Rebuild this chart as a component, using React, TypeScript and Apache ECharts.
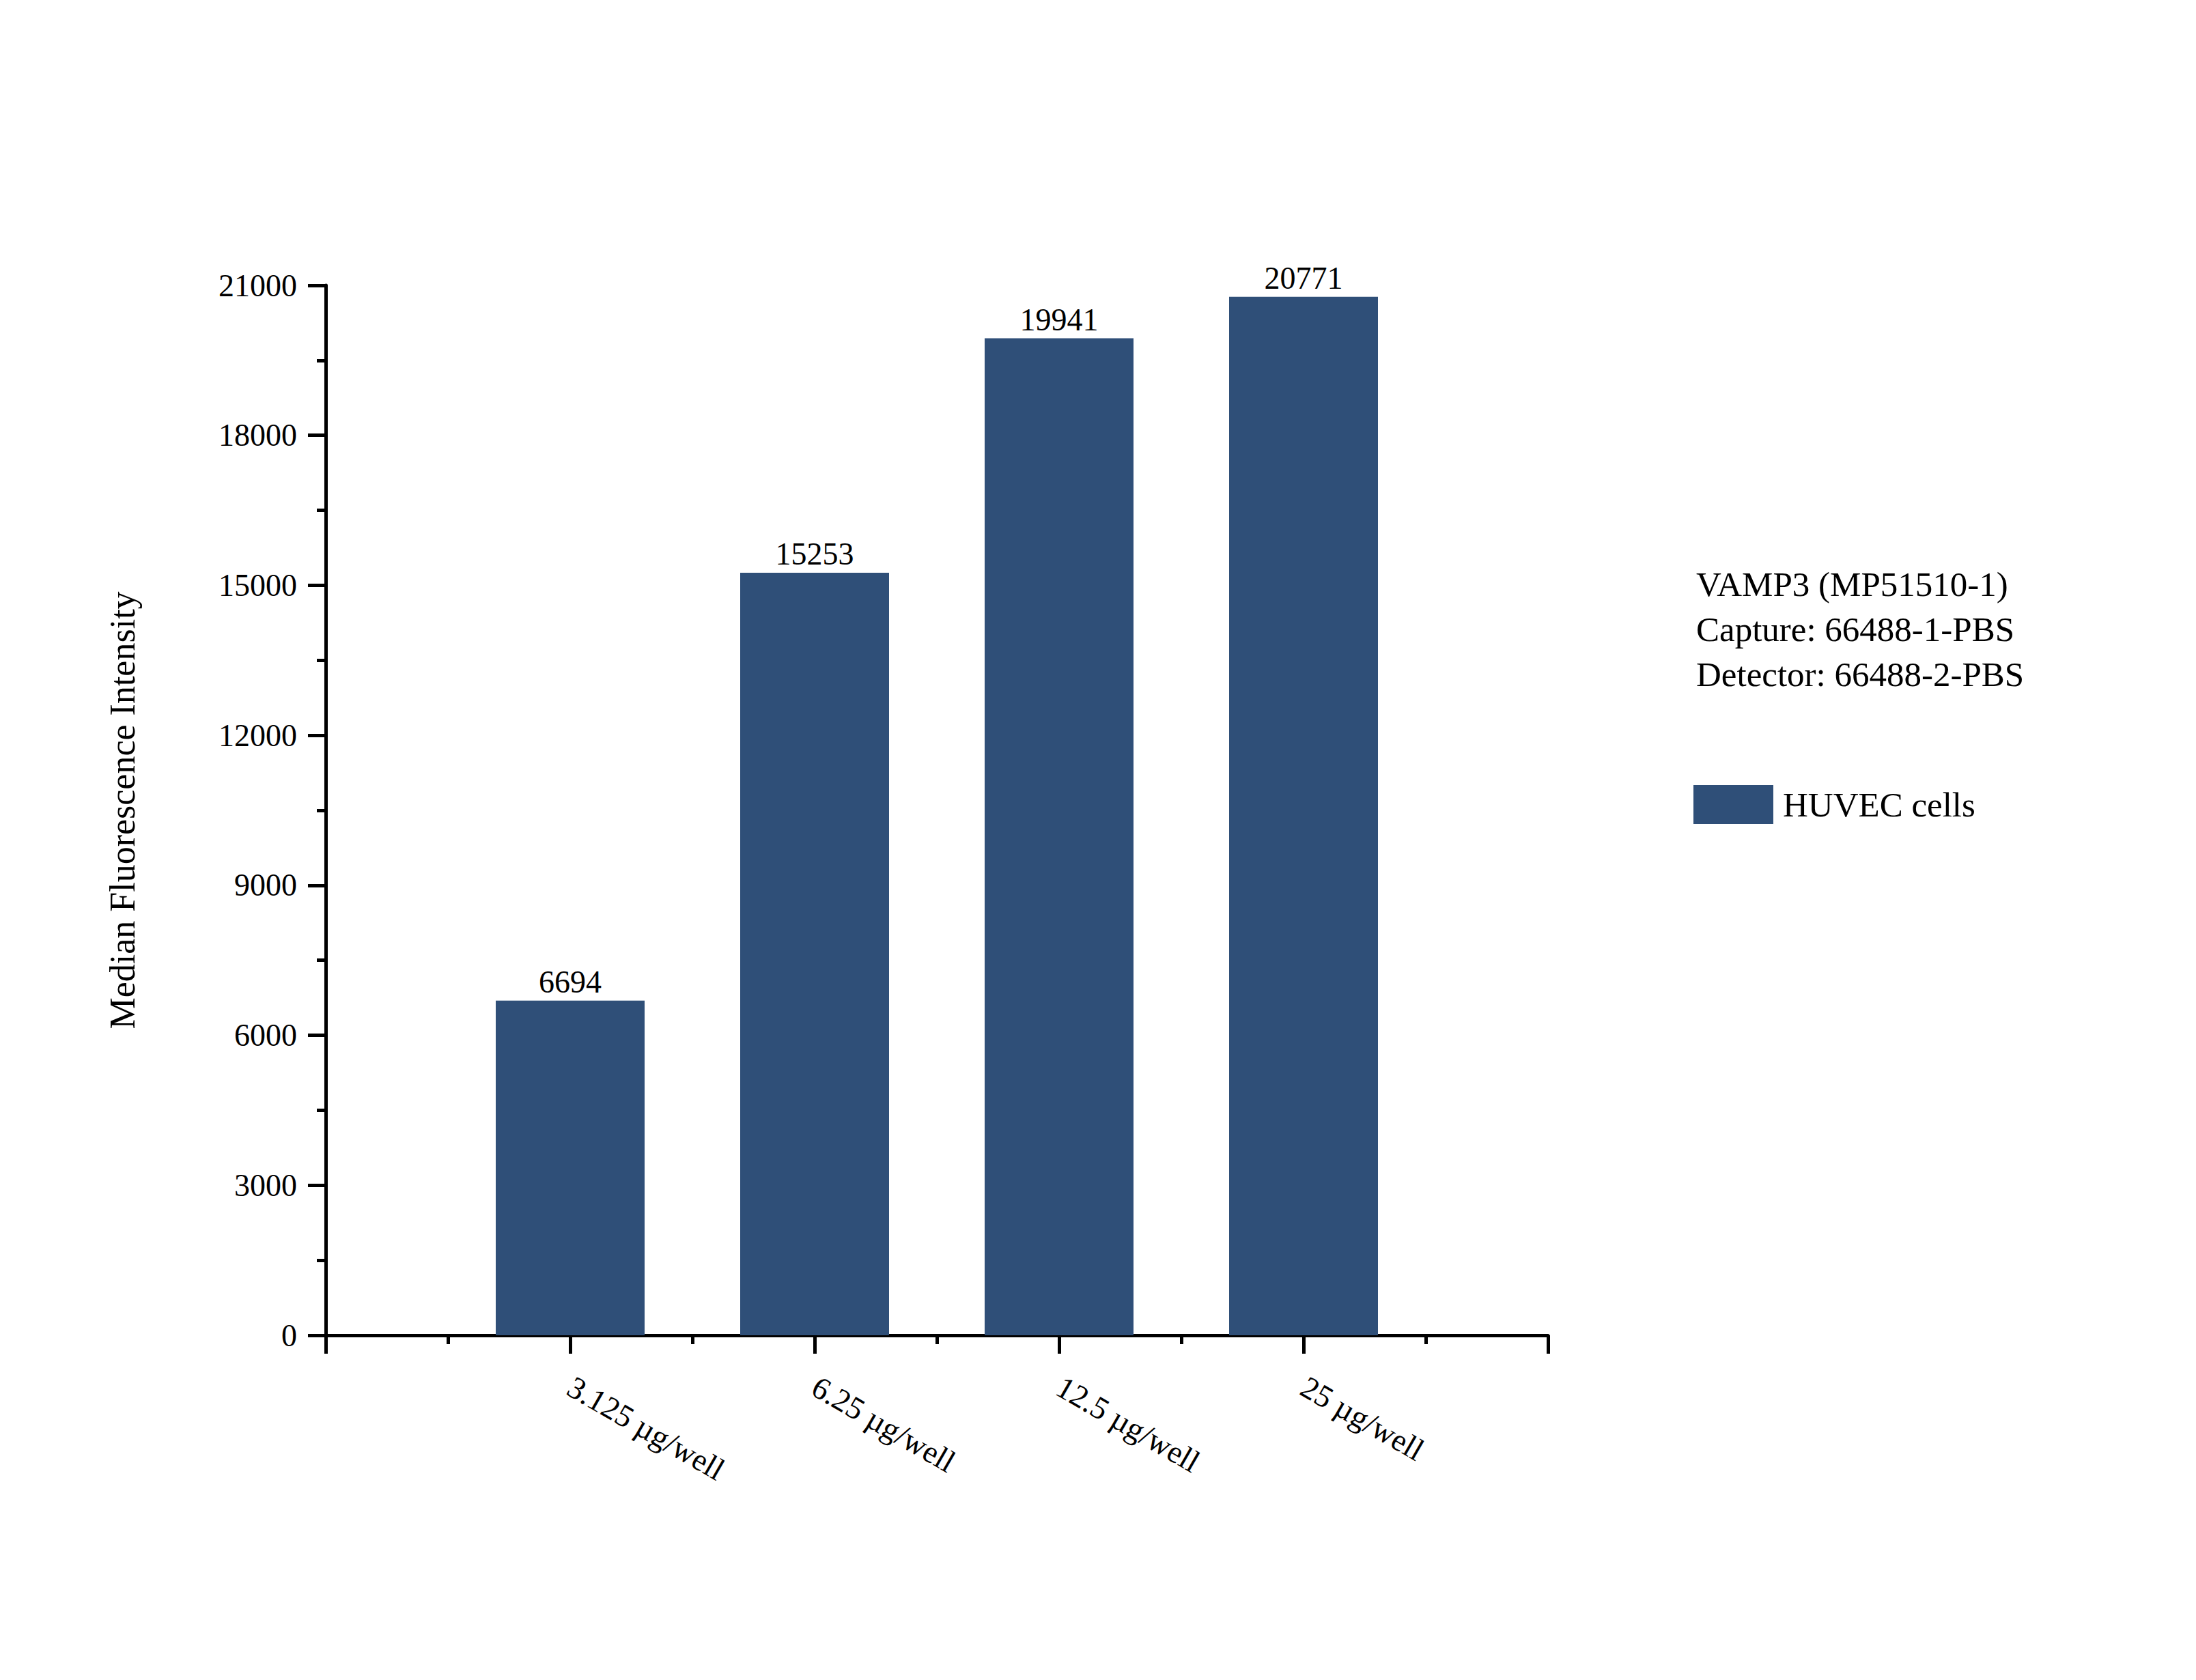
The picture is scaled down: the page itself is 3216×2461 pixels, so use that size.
import { useEffect, useRef } from 'react'
import * as echarts from 'echarts'

const categories = ['3.125 µg/well', '6.25 µg/well', '12.5 µg/well', '25 µg/well']
const huvecValues = [6694, 15253, 19941, 20771]
const seriesName = 'HUVEC cells'
const yAxisTitle = 'Median Fluorescence Intensity'
const noteLines = ['VAMP3 (MP51510-1)', 'Capture: 66488-1-PBS', 'Detector: 66488-2-PBS']

const FONT = '"Liberation Serif", "Times New Roman", serif'
const BAR_COLOR = '#2f4f78'

/** Bar chart of median fluorescence per antibody amount. */
export default function App() {
  const ref = useRef<HTMLDivElement>(null)

  useEffect(() => {
    document.body.style.margin = '0'
    if (!ref.current) {
      return
    }
    const chart = echarts.init(ref.current, null, { renderer: 'svg' })

    chart.setOption({
      animation: false,
      backgroundColor: '#ffffff',
      textStyle: { fontFamily: FONT, color: '#000' },
      grid: { left: 477, top: 418, right: 949, bottom: 505, containLabel: false },
      legend: {
        left: 2480,
        top: 1150,
        padding: 0,
        icon: 'rect',
        itemWidth: 117,
        itemHeight: 57,
        data: [seriesName],
        textStyle: { fontFamily: FONT, fontSize: 51, color: '#000', padding: [0, 0, 0, 9] },
      },
      xAxis: {
        type: 'value',
        min: 0,
        max: categories.length + 1,
        interval: 1,
        axisLine: { show: true, lineStyle: { color: '#000', width: 5 } },
        axisTick: { show: true, length: 27, lineStyle: { color: '#000', width: 5 } },
        minorTick: { show: true, splitNumber: 2, length: 13, lineStyle: { color: '#000', width: 5 } },
        splitLine: { show: false },
        axisLabel: {
          rotate: -30,
          margin: 72,
          fontFamily: FONT,
          fontSize: 46,
          color: '#000',
          formatter: (v: number) => categories[v - 1] ?? '',
        },
      },
      yAxis: {
        type: 'value',
        min: 0,
        max: 21000,
        interval: 3000,
        name: yAxisTitle,
        nameLocation: 'middle',
        nameGap: 272,
        nameTextStyle: { fontFamily: FONT, fontSize: 52, color: '#000' },
        axisLine: { show: true, lineStyle: { color: '#000', width: 5 } },
        axisTick: { show: true, length: 26, lineStyle: { color: '#000', width: 5 } },
        minorTick: { show: true, splitNumber: 2, length: 13, lineStyle: { color: '#000', width: 5 } },
        splitLine: { show: false },
        axisLabel: {
          margin: 42,
          fontFamily: FONT,
          fontSize: 46,
          color: '#000',
          formatter: (v: number) => String(v),
        },
      },
      series: [
        {
          name: seriesName,
          type: 'bar',
          barWidth: 218,
          itemStyle: { color: BAR_COLOR },
          data: huvecValues.map((v, i) => [i + 1, v]),
          label: {
            show: true,
            position: 'top',
            distance: 4,
            fontFamily: FONT,
            fontSize: 46,
            color: '#000',
            formatter: (p: { value: number[] }) => String(p.value[1]),
          },
        },
      ],
      graphic: noteLines.map((line, i) => ({
        type: 'text',
        left: 2484,
        top: 830 + i * 66,
        style: { text: line, fontFamily: FONT, fontSize: 51, fill: '#000' },
      })),
    })

    return () => {
      chart.dispose()
    }
  }, [])

  return <div ref={ref} style={{ width: 3216, height: 2461 }} />
}
